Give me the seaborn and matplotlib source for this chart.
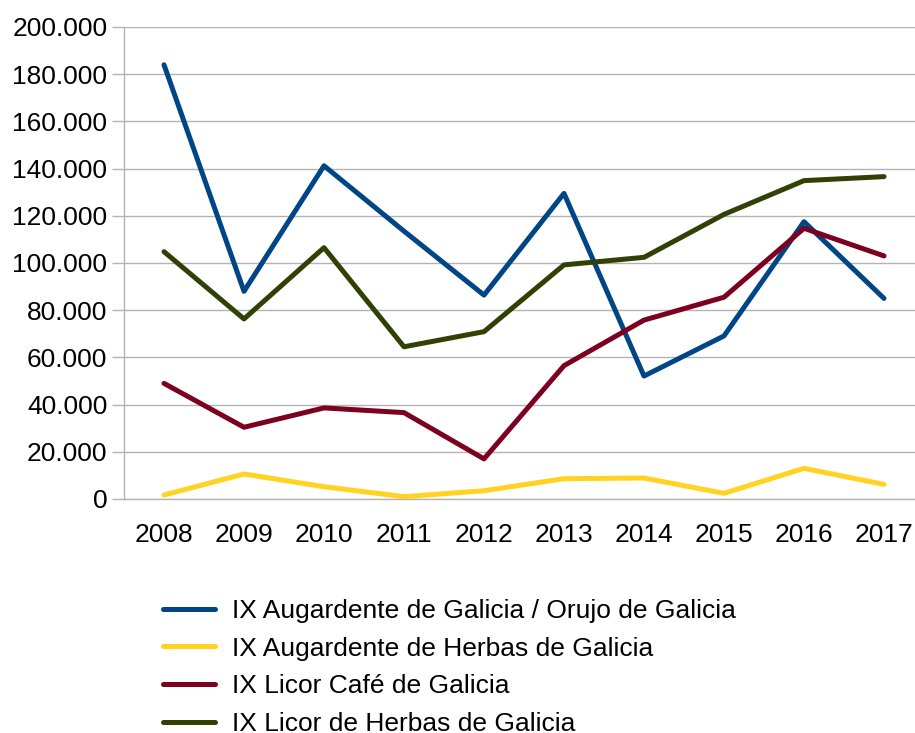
import pandas as pd
import matplotlib.pyplot as plt
import matplotlib.ticker as mticker
import seaborn as sns

# Datos
anos = ["2008", "2009", "2010", "2011", "2012", "2013", "2014", "2015", "2016", "2017"]
orujo = [184000, 88000, 141200, 113500, 86400, 129500, 52100, 69100, 117500, 85000]
augardente_herbas = [1700, 10600, 5200, 1000, 3500, 8600, 8900, 2400, 13000, 6200]
licor_cafe = [49000, 30400, 38600, 36600, 17000, 56500, 75800, 85500, 114700, 103000]
licor_herbas = [104800, 76300, 106500, 64500, 70900, 99200, 102400, 120600, 134900, 136600]

series = {
    "IX Augardente de Galicia / Orujo de Galicia": orujo,
    "IX Augardente de Herbas de Galicia": augardente_herbas,
    "IX Licor Café de Galicia": licor_cafe,
    "IX Licor de Herbas de Galicia": licor_herbas,
}
colores = ["#004586", "#ffd320", "#7e0021", "#314004"]

filas = []
for nombre, valores in series.items():
    for i, v in enumerate(valores):
        filas.append({"pos": i, "Serie": nombre, "Valor": v})
df = pd.DataFrame(filas)

sns.set_theme(style="white")
plt.rcParams["font.family"] = ["Liberation Sans", "DejaVu Sans"]
plt.rcParams["text.color"] = "black"

fig = plt.figure(figsize=(9.15, 7.33), dpi=100)
# el área del gráfico se sale un poco por la derecha, como en el original
ax = fig.add_axes([124 / 915, 1 - 499 / 733, 800 / 915, 472 / 733])
ax.set_clip_on(False)

sns.lineplot(data=df, x="pos", y="Valor", hue="Serie", palette=colores,
             linewidth=3.6, ax=ax, legend=True, zorder=3)

ax.set_xlim(-0.5, len(anos) - 0.5)
ax.set_ylim(0, 200000)
ax.yaxis.set_major_locator(mticker.MultipleLocator(20000))
ax.yaxis.set_major_formatter(mticker.FuncFormatter(lambda v, p: f"{int(v):,}".replace(",", ".")))
ax.set_xticks(range(len(anos)))
ax.set_xticklabels(anos)
ax.set_xticks([i - 0.5 for i in range(len(anos) + 1)], minor=True)
ax.tick_params(axis="x", which="major", length=0, pad=17, labelsize=19, colors="black")
ax.tick_params(axis="x", which="minor", length=9, width=1, color="#b3b3b3")
ax.tick_params(axis="y", which="major", length=9, width=1, color="#b3b3b3", pad=3,
               labelsize=19, labelcolor="black", left=True)
ax.grid(axis="y", color="#b3b3b3", linewidth=1)
ax.set_axisbelow(True)
for lado in ["top", "right"]:
    ax.spines[lado].set_visible(False)
for lado in ["left", "bottom"]:
    ax.spines[lado].set_color("#b3b3b3")
    ax.spines[lado].set_linewidth(1)
ax.set_xlabel("")
ax.set_ylabel("")

handles, labels = ax.get_legend_handles_labels()
ax.get_legend().remove()
leg = fig.legend(handles, labels, loc="upper left", bbox_to_anchor=(163 / 915, 134 / 733),
                 frameon=False, fontsize=19, borderpad=0, borderaxespad=0,
                 handlelength=1.97, handletextpad=0.64, labelspacing=0.52)
for linea in leg.get_lines():
    linea.set_linewidth(3.6)
for t in leg.get_texts():
    t.set_color("black")

plt.savefig("out.png", dpi=100)
